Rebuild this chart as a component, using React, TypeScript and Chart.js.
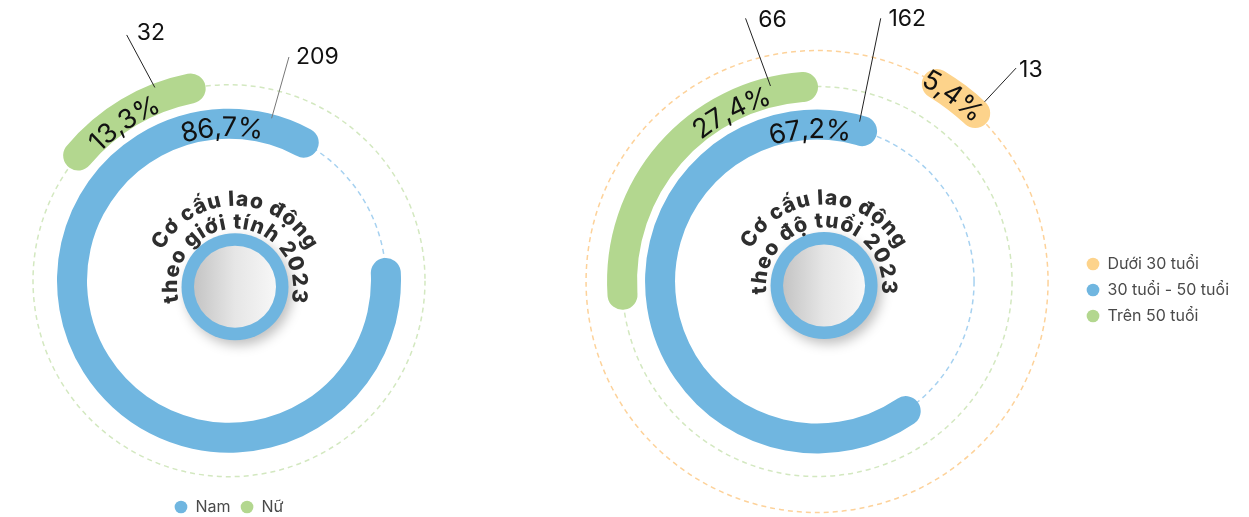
import React, { useEffect, useRef } from 'react';
import { Chart, registerables } from 'chart.js';

Chart.register(...registerables);

const FONT = 'Inter, "Noto Sans", sans-serif';

// ---------------- DATA ----------------
const genderCategories = ['Nam', 'Nữ'];
const genderCounts = [209, 32];
const genderColors = ['#70B6E0', '#B3D78F'];
const genderTitleLines = ['Cơ cấu lao động', 'theo giới tính 2023'];

const ageCategories = ['Dưới 30 tuổi', '30 tuổi - 50 tuổi', 'Trên 50 tuổi'];
const ageCounts = [13, 162, 66];
const ageColors = ['#FDD38B', '#70B6E0', '#B3D78F'];
const ageTitleLines = ['Cơ cấu lao động', 'theo độ tuổi 2023'];

// ---------------- STYLE ----------------
const DASH = { blue: '#A6D1F0', green: '#D3E8C0', orange: '#FDD29A' };
const LEGEND_FONT = 16;

interface RingStyle {
  category: number;
  thickness: number;
  gapAfter: number;
  rotation: number;
  dashRadius: number;
  dashColor: string;
  labelAngle: number;
  labelRadius: number;
  leader: [number, number, number, number];
  leaderColor: string;
  numberOffset: [number, number];
}

interface ChartStyle {
  categories: string[];
  counts: number[];
  colors: string[];
  titleLines: string[];
  rings: RingStyle[];
  outerRadius: number;
  innerRadius: number;
  discOffset: [number, number];
  padding: { top: number; left: number; right: number; bottom: number };
  legendPos: 'bottom' | 'right';
}

const genderStyle: ChartStyle = {
  categories: genderCategories,
  counts: genderCounts,
  colors: genderColors,
  titleLines: genderTitleLines,
  outerRadius: 211,
  innerRadius: 142,
  discOffset: [6, 6],
  padding: { top: 72.4, left: 0, right: 7, bottom: 0 },
  legendPos: 'bottom',
  rings: [
    {
      category: 1, thickness: 30, gapAfter: 9, rotation: -54.7,
      dashRadius: 196, dashColor: DASH.green,
      labelAngle: -123.5, labelRadius: 190,
      leader: [-111, 207, -112.6, 266.2], leaderColor: '#222', numberOffset: [10, -1.7],
    },
    {
      category: 0, thickness: 30, gapAfter: 0, rotation: 81.7,
      dashRadius: 157, dashColor: DASH.blue,
      labelAngle: -92.6, labelRadius: 152.9,
      leader: [-75.3, 167.9, -75.0, 231.6], leaderColor: '#777', numberOffset: [7, 0.5],
    },
  ],
};

const ageStyle: ChartStyle = {
  categories: ageCategories,
  counts: ageCounts,
  colors: ageColors,
  titleLines: ageTitleLines,
  outerRadius: 246,
  innerRadius: 142,
  discOffset: [7, 4],
  padding: { top: 46, left: 17.6, right: 10, bottom: 0 },
  legendPos: 'right',
  rings: [
    {
      category: 0, thickness: 30, gapAfter: 6, rotation: 27.5,
      dashRadius: 231, dashColor: DASH.orange,
      labelAngle: -53.8, labelRadius: 230.4,
      leader: [-47, 245.7, -47, 291.8], leaderColor: '#222', numberOffset: [3, 1.7],
    },
    {
      category: 2, thickness: 30, gapAfter: 8, rotation: 261.7,
      dashRadius: 195, dashColor: DASH.green,
      labelAngle: -116.7, labelRadius: 190.9,
      leader: [-103.4, 201, -105.2, 272.7], leaderColor: '#222', numberOffset: [12.7, 1.7],
    },
    {
      category: 1, thickness: 30, gapAfter: 0, rotation: 140.15,
      dashRadius: 157, dashColor: DASH.blue,
      labelAngle: -92.6, labelRadius: 151.7,
      leader: [-75.1, 165.4, -76.4, 270.8], leaderColor: '#222', numberOffset: [7.7, 0.7],
    },
  ],
};

const rad = (d: number) => (d * Math.PI) / 180;

function drawArcText(
  ctx: CanvasRenderingContext2D, text: string, cx: number, cy: number, r: number,
  centerDeg: number, font: string, color: string, baseline: CanvasTextBaseline, tracking = 0
) {
  ctx.save();
  ctx.font = font;
  ctx.fillStyle = color;
  ctx.textAlign = 'center';
  ctx.textBaseline = baseline;
  const chars = Array.from(text.normalize('NFC'));
  const widths = chars.map((c) => ctx.measureText(c).width + tracking);
  const total = widths.reduce((a, b) => a + b, 0) - tracking;
  let a = rad(centerDeg) - total / r / 2;
  chars.forEach((c, i) => {
    const w = widths[i] - tracking;
    const mid = a + w / 2 / r;
    ctx.save();
    ctx.translate(cx + r * Math.cos(mid), cy + r * Math.sin(mid));
    ctx.rotate(mid + Math.PI / 2);
    ctx.fillText(c, 0, 0);
    ctx.restore();
    a += widths[i] / r;
  });
  ctx.restore();
}

function buildDatasets(s: ChartStyle) {
  const total = s.counts.reduce((a, b) => a + b, 0);
  const ds: any[] = [];
  s.rings.forEach((r, k) => {
    const v = s.counts[r.category];
    ds.push({
      label: s.categories[r.category],
      data: [v, total - v],
      backgroundColor: [s.colors[r.category], 'rgba(0,0,0,0)'],
      borderWidth: 0,
      borderRadius: (c: any) => (c.dataIndex === 0 ? r.thickness / 2 : 0),
      rotation: r.rotation,
      weight: r.thickness,
    });
    if (k < s.rings.length - 1) {
      ds.push({
        label: '',
        data: [1],
        backgroundColor: ['rgba(0,0,0,0)'],
        borderWidth: 0,
        weight: r.gapAfter,
      });
    }
  });
  return ds;
}

function makeDecor(s: ChartStyle) {
  const total = s.counts.reduce((a, b) => a + b, 0);
  return {
    id: 'decor',
    beforeDatasetsDraw(chart: any) {
      const el = chart.getDatasetMeta(0).data[0];
      const cx = el.x, cy = el.y;
      const ctx: CanvasRenderingContext2D = chart.ctx;
      ctx.save();
      ctx.lineWidth = 1.5;
      ctx.setLineDash([5, 4]);
      s.rings.forEach((r) => {
        ctx.strokeStyle = r.dashColor;
        ctx.beginPath();
        ctx.arc(cx, cy, r.dashRadius, 0, Math.PI * 2);
        ctx.stroke();
      });
      ctx.restore();
    },
    afterDatasetsDraw(chart: any) {
      const el = chart.getDatasetMeta(0).data[0];
      const cx = el.x, cy = el.y;
      const ctx: CanvasRenderingContext2D = chart.ctx;

      // center disc
      const dx = cx + s.discOffset[0], dy = cy + s.discOffset[1];
      ctx.save();
      ctx.shadowColor = 'rgba(0,0,0,0.25)';
      ctx.shadowBlur = 12;
      ctx.shadowOffsetX = 4;
      ctx.shadowOffsetY = 5;
      ctx.beginPath();
      ctx.arc(dx, dy, 53.5, 0, Math.PI * 2);
      ctx.fillStyle = '#6FB5E0';
      ctx.fill();
      ctx.restore();
      const g = ctx.createLinearGradient(dx - 41, 0, dx + 41, 0);
      g.addColorStop(0, '#C4C4C4');
      g.addColorStop(0.5, '#E6E6E6');
      g.addColorStop(1, '#F7F7F7');
      ctx.beginPath();
      ctx.arc(dx, dy, 41, 0, Math.PI * 2);
      ctx.fillStyle = g;
      ctx.fill();

      // curved title
      drawArcText(ctx, s.titleLines[0], dx, dy, 81, -90, `800 21px ${FONT}`, '#2E2E2E', 'alphabetic', 1);
      drawArcText(ctx, s.titleLines[1], dx, dy, 58, -90, `800 21px ${FONT}`, '#2E2E2E', 'alphabetic', 1);

      // percentage labels, leader lines, counts
      s.rings.forEach((r) => {
        const v = s.counts[r.category];
        const pct = ((v / total) * 100).toFixed(1).replace('.', ',') + '%';
        drawArcText(ctx, pct, cx, cy, r.labelRadius, r.labelAngle, `27px ${FONT}`, '#111', 'middle');

        const [a1, r1, a2, r2] = r.leader;
        const x1 = cx + r1 * Math.cos(rad(a1)), y1 = cy + r1 * Math.sin(rad(a1));
        const x2 = cx + r2 * Math.cos(rad(a2)), y2 = cy + r2 * Math.sin(rad(a2));
        ctx.save();
        ctx.strokeStyle = r.leaderColor;
        ctx.lineWidth = 1;
        ctx.beginPath();
        ctx.moveTo(x1, y1);
        ctx.lineTo(x2, y2);
        ctx.stroke();
        ctx.font = `23px ${FONT}`;
        ctx.fillStyle = '#111';
        ctx.textAlign = 'left';
        ctx.textBaseline = 'middle';
        ctx.fillText(String(v), x2 + r.numberOffset[0], y2 + r.numberOffset[1]);
        ctx.restore();
      });
    },
  };
}

function makeConfig(s: ChartStyle): any {
  const legendLabels = () =>
    s.categories.map((c, i) => ({
      text: c,
      fillStyle: s.colors[i],
      strokeStyle: s.colors[i],
      lineWidth: 0,
      pointStyle: 'circle',
      hidden: false,
      index: i,
      fontColor: '#4A4A4A',
    }));
  const legend: any = {
    position: s.legendPos,
    labels: {
      usePointStyle: true,
      pointStyle: 'circle',
      boxWidth: 13,
      boxHeight: 9,
      padding: 10,
      font: { family: FONT, size: LEGEND_FONT },
      color: '#4A4A4A',
      generateLabels: legendLabels,
    },
  };
  if (s.legendPos === 'right') {
    legend.maxWidth = 165;
    legend.title = { display: true, text: '', padding: { top: 2.6, bottom: 0 }, font: { size: 12 } };
  }
  return {
    type: 'doughnut',
    data: { labels: ['value', 'rest'], datasets: buildDatasets(s) },
    options: {
      responsive: false,
      animation: false,
      events: [],
      radius: s.outerRadius,
      cutout: `${(s.innerRadius / s.outerRadius) * 100}%`,
      layout: { padding: s.padding },
      plugins: {
        legend,
        tooltip: { enabled: false },
      },
    },
    plugins: [makeDecor(s)],
  };
}

function RingChart(props: { spec: ChartStyle; left: number; top: number; width: number; height: number }) {
  const ref = useRef<HTMLCanvasElement | null>(null);
  useEffect(() => {
    if (!ref.current) return;
    const chart = new Chart(ref.current, makeConfig(props.spec));
    return () => chart.destroy();
  }, []);
  return (
    <div style={{ position: 'absolute', left: props.left, top: props.top, width: props.width, height: props.height }}>
      <canvas ref={ref} width={props.width} height={props.height} style={{ display: 'block' }} />
    </div>
  );
}

export default function App() {
  return (
    <div
      style={{
        position: 'fixed',
        left: 0,
        top: 0,
        width: 1249,
        height: 517,
        overflow: 'hidden',
        background: '#ffffff',
      }}
    >
      <RingChart spec={genderStyle} left={0} top={0} width={465} height={525} />
      <RingChart spec={ageStyle} left={540} top={0} width={709} height={517} />
    </div>
  );
}
